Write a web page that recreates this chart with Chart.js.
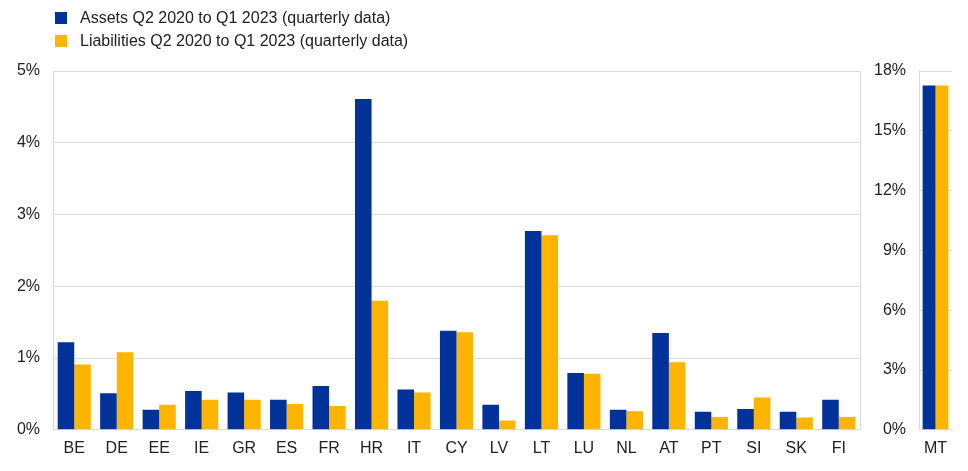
<!DOCTYPE html>
<html>
<head>
<meta charset="utf-8">
<script src="https://cdn.jsdelivr.net/npm/chart.js@4.4.1/dist/chart.umd.min.js"></script>
<style>
  html, body { margin: 0; padding: 0; background: #fff; }
  #wrap { position: relative; width: 968px; height: 471px; font-family: "Liberation Sans", Arial, sans-serif; }
  canvas { position: absolute; left: 0; top: 0; }
  .legend { position: absolute; left: 55px; top: 6px; font-size: 16px; color: #222; }
  .legend div { display: flex; align-items: center; height: 23px; }
  .legend span { display: inline-block; width: 12px; height: 12px; margin-right: 13px; }
</style>
</head>
<body>
<div id="wrap">
  <canvas id="mainChart" width="968" height="471"></canvas>
  <canvas id="mtChart" width="968" height="471"></canvas>
  <div class="legend" id="legend"></div>
</div>
<script>
const categories = ["BE", "DE", "EE", "IE", "GR", "ES", "FR", "HR", "IT", "CY", "LV", "LT", "LU", "NL", "AT", "PT", "SI", "SK", "FI"];
const assets = [1.22, 0.51, 0.28, 0.54, 0.52, 0.42, 0.61, 4.61, 0.56, 1.38, 0.35, 2.77, 0.79, 0.28, 1.35, 0.25, 0.29, 0.25, 0.42];
const liabilities = [0.91, 1.08, 0.35, 0.42, 0.42, 0.36, 0.33, 1.80, 0.52, 1.36, 0.13, 2.71, 0.78, 0.26, 0.94, 0.18, 0.45, 0.17, 0.18];
const mtCategories = ["MT"];
const mtAssets = [17.27];
const mtLiabilities = [17.27];
const leftTicks = { min: 0, max: 5, step: 1 };
const rightTicks = { min: 0, max: 18, step: 3 };
const seriesLabels = ["Assets Q2 2020 to Q1 2023 (quarterly data)", "Liabilities Q2 2020 to Q1 2023 (quarterly data)"];

const BLUE = "#003299";
const YELLOW = "#FFB400";
const GRID = "#d9d9d9";
const TEXT = "#222";
const FONT = { family: "'Liberation Sans', Arial, sans-serif", size: 16 };

document.getElementById("legend").innerHTML = seriesLabels
  .map((label, i) => `<div><span style="background:${i === 0 ? BLUE : YELLOW}"></span>${label}</div>`)
  .join("");

function barDataset(label, data, color) {
  return {
    label,
    data,
    backgroundColor: color,
    borderWidth: 0,
    categoryPercentage: 0.78,
    barPercentage: 1,
  };
}

function yScale(range, axisWidth) {
  return {
    min: range.min,
    max: range.max,
    border: { display: true, color: GRID },
    grid: { color: GRID, drawTicks: false },
    ticks: {
      stepSize: range.step,
      padding: 13,
      color: TEXT,
      font: FONT,
      callback: (value) => `${value}%`,
    },
    afterFit: (scale) => { scale.width = axisWidth; },
  };
}

const xScale = {
  border: { display: true, color: GRID },
  grid: { display: false, drawTicks: false },
  ticks: { color: TEXT, font: FONT, padding: 9, autoSkip: false, maxRotation: 0 },
};

new Chart(document.getElementById("mainChart"), {
  type: "bar",
  data: {
    labels: categories,
    datasets: [
      barDataset(seriesLabels[0], assets, BLUE),
      barDataset(seriesLabels[1], liabilities, YELLOW),
    ],
  },
  options: {
    responsive: false,
    animation: false,
    layout: { padding: { left: 0, right: 108, top: 71, bottom: 4 } },
    plugins: { legend: { display: false }, tooltip: { enabled: false } },
    scales: {
      x: xScale,
      y: yScale(leftTicks, 53),
      yRight: {
        position: "right",
        border: { display: true, color: GRID },
        grid: { display: false, drawTicks: false },
        ticks: { display: false },
        afterFit: (scale) => { scale.width = 0; },
      },
    },
  },
});

new Chart(document.getElementById("mtChart"), {
  type: "bar",
  data: {
    labels: mtCategories,
    datasets: [
      barDataset(seriesLabels[0], mtAssets, BLUE),
      barDataset(seriesLabels[1], mtLiabilities, YELLOW),
    ],
  },
  options: {
    responsive: false,
    animation: false,
    layout: { padding: { left: 870, right: 16, top: 71, bottom: 4 } },
    plugins: { legend: { display: false }, tooltip: { enabled: false } },
    scales: {
      x: xScale,
      y: yScale(rightTicks, 49),
    },
  },
});
</script>
</body>
</html>
